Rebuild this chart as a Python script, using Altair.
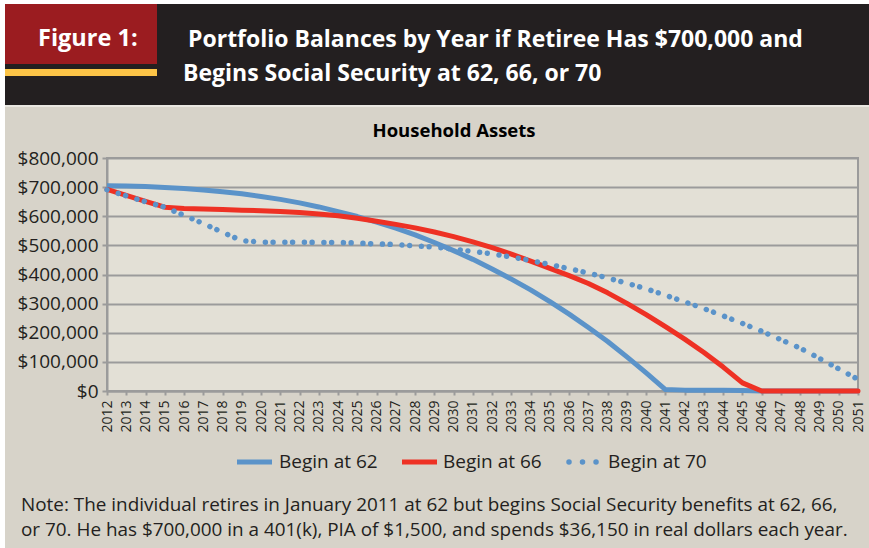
import altair as alt
import pandas as pd

# ---------------- data ----------------
years = list(range(2012, 2052))
begin_62 = [705000, 704000, 702000, 699000, 695000, 690000, 684000, 677000, 668000, 658000,
            646000, 632000, 616000, 599000, 580000, 559000, 536000, 510000, 482000, 452000,
            419000, 384000, 347000, 307000, 264000, 218000, 170000, 117000, 62000, 5000,
            3000, 3000, 3000, 2000, 0, 0, 0, 0, 0, 0]
begin_66 = [692000, 672000, 651000, 631000, 627000, 625000, 623000, 621000, 619000, 616000,
            613000, 608000, 602000, 593000, 583000, 572000, 560000, 546000, 530000, 512000,
            492000, 470000, 446000, 421000, 396000, 369000, 337000, 301000, 262000, 221000,
            178000, 132000, 82000, 28000, 0, 0, 0, 0, 0, 0]
begin_70 = [691000, 670000, 650000, 631000, 603000, 575000, 545000, 516000, 511000, 511000,
            511000, 510000, 510000, 508000, 505000, 503000, 498000, 494000, 487000, 479000,
            471000, 460000, 448000, 434000, 420000, 405000, 388000, 370000, 351000, 329000,
            306000, 283000, 258000, 232000, 205000, 176000, 147000, 112000, 76000, 40000]
series_names = ["Begin at 62", "Begin at 66", "Begin at 70"]
y_ticks = [0, 100000, 200000, 300000, 400000, 500000, 600000, 700000, 800000]

fig_label = "Figure 1:"
title_lines = ["Portfolio Balances by Year if Retiree Has $700,000 and",
               "Begins Social Security at 62, 66, or 70"]
chart_title = "Household Assets"
note_lines = ["Note: The individual retires in January 2011 at 62 but begins Social Security benefits at 62, 66,",
              "or 70. He has $700,000 in a 401(k), PIA of $1,500, and spends $36,150 in real dollars each year."]

# ---------------- style ----------------
BLUE = "#5b93c9"
RED = "#ee3124"
GRID = "#9b9b9b"
PLOT_BG = "#e3e0d6"
OUTER_BG = "#d7d3c9"
DARK = "#231f20"
FONT = "Open Sans"

W, H = 751, 233          # plot area
L, T = 107, 158          # plot origin on page


def X(px):
    return px - L


def Y(py):
    return py - T


one = pd.DataFrame({"k": [0]})


def rect(x1, y1, x2, y2, color):
    return alt.Chart(one).mark_rect(color=color).encode(
        x=alt.value(X(x1)), x2=alt.value(X(x2)), y=alt.value(Y(y1)), y2=alt.value(Y(y2)))


def text(s, x, y, size, weight="normal", color=DARK, align="left", baseline="alphabetic"):
    return alt.Chart(one).mark_text(
        text=s, align=align, baseline=baseline, font=FONT, fontSize=size,
        fontWeight=weight, color=color).encode(x=alt.value(X(x)), y=alt.value(Y(y)))


df = pd.DataFrame({
    "year": years * 3,
    "value": begin_62 + begin_66 + begin_70,
    "series": [series_names[0]] * len(years) + [series_names[1]] * len(years) + [series_names[2]] * len(years),
})

x_enc = alt.X("year:Q",
              scale=alt.Scale(domain=[2012, 2051], nice=False, zero=False),
              axis=alt.Axis(values=years, format="d", labelAngle=270, labelFont=FONT,
                            labelFontSize=14, labelColor=DARK, labelOverlap=False,
                            labelFlush=False, labelPadding=5, tickSize=4, tickWidth=2,
                            tickColor=GRID, domainColor=GRID, domainWidth=2, grid=False,
                            title=None))
y_enc = alt.Y("value:Q",
              scale=alt.Scale(domain=[0, 800000], nice=False, zero=True),
              axis=alt.Axis(values=y_ticks, format="$,.0f", labelFont=FONT, labelFontSize=19,
                            labelColor=DARK, labelPadding=4, tickSize=5, tickWidth=2,
                            tickColor=GRID, domainColor=GRID, domainWidth=2, grid=True,
                            gridColor=GRID, gridWidth=2, title=None))

base = alt.Chart(df).encode(x=x_enc, y=y_enc)
line62 = base.transform_filter(alt.datum.series == series_names[0]).mark_line(
    color=BLUE, strokeWidth=5, strokeJoin="round")
line66 = base.transform_filter(alt.datum.series == series_names[1]).mark_line(
    color=RED, strokeWidth=5, strokeJoin="round", strokeCap="round")
line70 = base.transform_filter(alt.datum.series == series_names[2]).mark_line(
    color=BLUE, strokeWidth=5.5, strokeCap="round", strokeDash=[0.01, 11.8, 0.01, 7.7])

# ---------------- decorations ----------------
header = [
    rect(0, 0, 869, 4, "#ffffff"),
    rect(0, 0, 5, 548, "#ffffff"),
    rect(5, 4, 869, 105, DARK),
    rect(5, 105, 869, 107, "#e9e7e1"),
    rect(5, 4, 157, 64, "#9b1c20"),
    rect(5, 69, 157, 76, "#fcc447"),
    text(fig_label, 38, 46, 23.5, "bold", "#ffffff"),
    text(title_lines[0], 188, 47, 23, "bold", "#ffffff"),
    text(title_lines[1], 183, 81, 23, "bold", "#ffffff"),
    text(chart_title, 454, 137, 18.5, "bold", "#000000", align="center"),
]

leg_y = 462
legend = [
    alt.Chart(one).mark_rule(color=BLUE, strokeWidth=5).encode(
        x=alt.value(X(237)), x2=alt.value(X(272)), y=alt.value(Y(leg_y))),
    text(series_names[0], 279, leg_y, 19, baseline="middle"),
    alt.Chart(one).mark_rule(color=RED, strokeWidth=5).encode(
        x=alt.value(X(402)), x2=alt.value(X(437)), y=alt.value(Y(leg_y))),
    text(series_names[1], 443, leg_y, 19, baseline="middle"),
    alt.Chart(one).mark_rule(color=BLUE, strokeWidth=5.5, strokeCap="round",
                             strokeDash=[0.01, 13.5]).encode(
        x=alt.value(X(569)), x2=alt.value(X(597)), y=alt.value(Y(leg_y))),
    text(series_names[2], 608, leg_y, 19, baseline="middle"),
]

notes = [
    text(note_lines[0], 21, 511, 18.9),
    text(note_lines[1], 21, 536, 18.9),
]

chart = alt.layer(*header, line62, line66, line70, *legend, *notes).properties(
    width=W, height=H,
    autosize=alt.AutoSizeParams(type="none"),
    padding={"left": L, "top": T, "right": 869 - L - W, "bottom": 548 - T - H},
    background=OUTER_BG,
).configure_view(fill=PLOT_BG, stroke=GRID, strokeWidth=2)

chart.save("out.html", embed_options={"renderer": "svg", "actions": False})
